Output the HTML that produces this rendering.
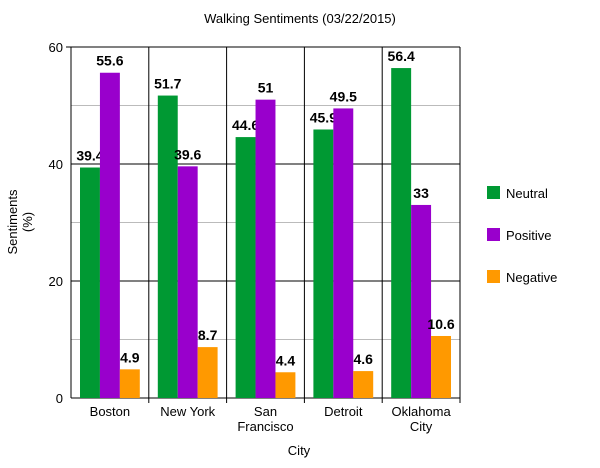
<!DOCTYPE html>
<html><head><meta charset="utf-8"><style>
body{margin:0;background:#fff;font-family:"Liberation Sans",Arial,sans-serif}
</style></head><body>
<svg id="c" width="600" height="463" xmlns="http://www.w3.org/2000/svg" font-family="Liberation Sans, Arial, sans-serif">
<text x="300" y="23" text-anchor="middle" font-size="13">Walking Sentiments (03/22/2015)</text>
<g id="grid"></g><g id="bars"></g><g id="axes"></g>
<text x="299" y="455" text-anchor="middle" font-size="13">City</text>
<g transform="translate(17,222) rotate(-90)"><text x="0" y="0" text-anchor="middle" font-size="13">Sentiments</text><text x="0" y="15" text-anchor="middle" font-size="13">(%)</text></g>
<g id="legend"></g>
</svg>
<script>
const categories=[["Boston"],["New York"],["San","Francisco"],["Detroit"],["Oklahoma","City"]];
const seriesNames=["Neutral","Positive","Negative"];
const neutral=[39.4,51.7,44.6,45.9,56.4];
const positive=[55.6,39.6,51,49.5,33];
const negative=[4.9,8.7,4.4,4.6,10.6];
const yTicks=[0,20,40,60];
const minorTicks=[10,30,50];
const colors=["#009933","#9900cc","#ff9900"];
const NS="http://www.w3.org/2000/svg";
const L=71,R=460,T=47,B=398,ymax=60;
const y=v=>B-(v/ymax)*(B-T);
const cw=(R-L)/categories.length;
const x=i=>L+i*cw;
function mk(tag,attrs,parent,txt){const e=document.createElementNS(NS,tag);for(const k in attrs)e.setAttribute(k,attrs[k]);if(txt!==undefined)e.textContent=txt;parent.appendChild(e);return e;}
const g=document.getElementById('grid'),b=document.getElementById('bars'),a=document.getElementById('axes'),lg=document.getElementById('legend');
minorTicks.forEach(t=>{const l=mk('line',{x1:L,x2:R,y1:y(t),y2:y(t),stroke:'#bbb'},g);

});
yTicks.forEach(t=>{const l=mk('line',{x1:L,x2:R,y1:y(t),y2:y(t),stroke:'#000'},g);


const tx=mk('text',{x:L-8,y:y(t)+5,'text-anchor':'end','font-size':13},a,t);

});
for(let i=0;i<=categories.length;i++){const l=mk('line',{x1:x(i),x2:x(i),y1:T,y2:B+(i===0?0:5),stroke:'#000'},a);

}
mk('line',{x1:L-5,x2:L,y1:T,y2:T,stroke:'#000'},a);
const series=[neutral,positive,negative];
const bw=(cw-18)/3;
categories.forEach((c,i)=>{
 series.forEach((s,j)=>{const bx=x(i)+9+j*bw;
  const r=mk('rect',{x:bx,y:y(s[i]),width:bw,height:B-y(s[i]),fill:colors[j]},b);
  
  
  const t=mk('text',{x:bx+bw/2,y:y(s[i])-7,'text-anchor':'middle','font-size':14,'font-weight':'bold'},b,s[i]);
  
  });
 c.forEach((ln,k)=>{const t=mk('text',{x:x(i)+cw/2,y:416+k*15,'text-anchor':'middle','font-size':13},a,ln);
  
  });
});
seriesNames.forEach((n,j)=>{const yy=186+j*42;
 const r=mk('rect',{x:487,y:yy,width:13,height:13,fill:colors[j]},lg);
 
 
 const t=mk('text',{x:506,y:yy+12,'font-size':13},lg,n);
 
 });
</script>
</body></html>
